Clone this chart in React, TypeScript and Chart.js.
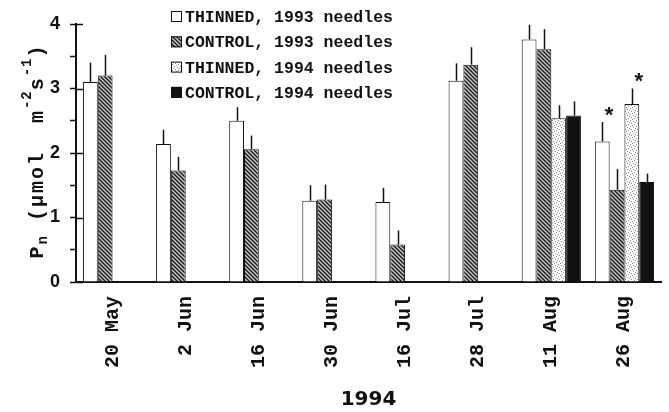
import React, { useEffect, useRef } from 'react';
import { Chart, registerables } from 'chart.js';

Chart.register(...registerables);

// ---- data ----
const categories = ['20 May', '2 Jun', '16 Jun', '30 Jun', '16 Jul', '28 Jul', '11 Aug', '26 Aug'];
const seriesLabels = [
  'THINNED, 1993 needles',
  'CONTROL, 1993 needles',
  'THINNED, 1994 needles',
  'CONTROL, 1994 needles',
];
const thinned1993 = [3.10, 2.14, 2.50, 1.26, 1.24, 3.12, 3.76, 2.18];
const thinned1993Err = [0.30, 0.22, 0.21, 0.24, 0.22, 0.27, 0.23, 0.30];
const control1993 = [3.20, 1.73, 2.06, 1.28, 0.58, 3.37, 3.61, 1.43];
const control1993Err = [0.32, 0.21, 0.21, 0.23, 0.22, 0.27, 0.31, 0.32];
const thinned1994 = [null, null, null, null, null, null, 2.54, 2.76];
const thinned1994Err = [null, null, null, null, null, null, 0.20, 0.24];
const control1994 = [null, null, null, null, null, null, 2.58, 1.55];
const control1994Err = [null, null, null, null, null, null, 0.22, 0.13];
const yMin = 0;
const yMax = 4;
const xTitle = '1994';
// [datasetIndex, categoryIndex] of bars flagged with an asterisk
const significant: [number, number][] = [[0, 7], [2, 7]];
const yTitleParts: { text: string; shift?: 'sub' | 'sup' }[] = [
  { text: 'P' },
  { text: 'n', shift: 'sub' },
  { text: ' (\u00B5mol  m' },
  { text: '-2', shift: 'sup' },
  { text: 's' },
  { text: '-1', shift: 'sup' },
  { text: ')' },
];

const MONO = "'Liberation Mono', 'Courier New', monospace";
const INK = '#111';

function makeHatch(): CanvasPattern | string {
  const c = document.createElement('canvas');
  c.width = 4;
  c.height = 4;
  const g = c.getContext('2d');
  if (!g) return '#777';
  g.fillStyle = '#c8c8c8';
  g.fillRect(0, 0, 4, 4);
  g.strokeStyle = '#1a1a1a';
  g.lineWidth = 1.4;
  g.beginPath();
  g.moveTo(-1, -1); g.lineTo(5, 5);
  g.moveTo(-1, 3); g.lineTo(1, 5);
  g.moveTo(3, -1); g.lineTo(5, 1);
  g.stroke();
  return g.createPattern(c, 'repeat') || '#777';
}

function makeStipple(): CanvasPattern | string {
  const c = document.createElement('canvas');
  c.width = 6;
  c.height = 6;
  const g = c.getContext('2d');
  if (!g) return '#eee';
  g.fillStyle = '#ffffff';
  g.fillRect(0, 0, 6, 6);
  g.fillStyle = '#8a8a8a';
  [[0, 0], [3, 1], [1, 3], [4, 4], [5, 2], [2, 5]].forEach(([x, y]) => g.fillRect(x, y, 1, 1));
  return g.createPattern(c, 'repeat') || '#eee';
}

export default function App() {
  const ref = useRef<HTMLCanvasElement | null>(null);

  useEffect(() => {
    const canvas = ref.current;
    if (!canvas) return;
    const hatch = makeHatch();
    const stipple = makeStipple();
    const errors = [thinned1993Err, control1993Err, thinned1994Err, control1994Err];

    const decor = {
      id: 'decor',
      afterDatasetsDraw(chart: any) {
        const { ctx } = chart;
        const ys = chart.scales.y;
        ctx.save();
        ctx.strokeStyle = INK;
        ctx.lineWidth = 1.5;
        chart.data.datasets.forEach((ds: any, di: number) => {
          const meta = chart.getDatasetMeta(di);
          meta.data.forEach((el: any, i: number) => {
            const v = ds.data[i];
            const e = errors[di][i];
            if (v == null || e == null) return;
            const yTop = ys.getPixelForValue(v + e);
            ctx.beginPath();
            ctx.moveTo(Math.round(el.x) + 0.5, el.y);
            ctx.lineTo(Math.round(el.x) + 0.5, yTop);
            ctx.stroke();
          });
        });
        // asterisks
        ctx.fillStyle = INK;
        ctx.font = `bold 22px ${MONO}`;
        ctx.textAlign = 'center';
        ctx.textBaseline = 'middle';
        significant.forEach(([di, i]) => {
          const el = chart.getDatasetMeta(di).data[i];
          const v = chart.data.datasets[di].data[i];
          const e = errors[di][i] || 0;
          const yTop = ys.getPixelForValue(v + e);
          ctx.fillText('*', el.x + 7, yTop - 5);
        });
        ctx.restore();
      },
      afterDraw(chart: any) {
        const { ctx, chartArea } = chart;
        const ys = chart.scales.y;
        ctx.save();
        // inner part of major y ticks
        ctx.strokeStyle = INK;
        ctx.lineWidth = 1.5;
        for (let v = yMin; v <= yMax; v += 1) {
          const y = Math.round(ys.getPixelForValue(v)) + 0.5;
          ctx.beginPath();
          ctx.moveTo(chartArea.left, y);
          ctx.lineTo(chartArea.left + 7, y);
          ctx.stroke();
        }
        // legend
        const lx = 171;
        const tx = 185;
        const y0 = 17;
        const dy = 25.3;
        ctx.font = `bold 16.5px ${MONO}`;
        ctx.textAlign = 'left';
        ctx.textBaseline = 'middle';
        chart.data.datasets.forEach((ds: any, i: number) => {
          const cy = y0 + i * dy;
          ctx.fillStyle = ds.backgroundColor;
          ctx.fillRect(lx, cy - 6, 11, 11);
          ctx.strokeStyle = INK;
          ctx.lineWidth = 1;
          ctx.strokeRect(lx + 0.5, cy - 5.5, 10, 10);
          ctx.fillStyle = INK;
          ctx.fillText(ds.label, tx, cy + 1);
        });
        // y axis title with sub/superscripts, drawn character by character
        const mainFont = `bold 20px ${MONO}`;
        const smallFont = `bold 14px ${MONO}`;
        const extraMain = 2;
        const extraSmall = 1;
        const glyphs: { ch: string; font: string; off: number; adv: number }[] = [];
        yTitleParts.forEach((p) => {
          const font = p.shift ? smallFont : mainFont;
          const off = p.shift === 'sub' ? 4 : p.shift === 'sup' ? -12 : 0;
          ctx.font = font;
          for (const ch of p.text) {
            const adv = ctx.measureText(ch).width + (p.shift ? extraSmall : extraMain);
            glyphs.push({ ch, font, off, adv });
          }
        });
        const total = glyphs.reduce((a, g) => a + g.adv, 0);
        const cx = 43;
        const cyc = (chartArea.top + chartArea.bottom) / 2 - 2;
        ctx.translate(cx, cyc);
        ctx.rotate(-Math.PI / 2);
        ctx.textAlign = 'left';
        ctx.textBaseline = 'alphabetic';
        ctx.fillStyle = INK;
        let u = -total / 2;
        glyphs.forEach((g) => {
          ctx.font = g.font;
          ctx.fillText(g.ch, u, g.off);
          u += g.adv;
        });
        ctx.restore();
      },
    };

    const chart = new Chart(canvas, {
      type: 'bar',
      data: {
        labels: categories,
        datasets: [
          { label: seriesLabels[0], data: thinned1993, backgroundColor: '#ffffff' },
          { label: seriesLabels[1], data: control1993, backgroundColor: hatch as any },
          { label: seriesLabels[2], data: thinned1994 as any, backgroundColor: stipple as any },
          { label: seriesLabels[3], data: control1994 as any, backgroundColor: '#111111' },
        ].map((d) => ({
          ...d,
          borderColor: INK,
          borderWidth: 1,
          categoryPercentage: 0.81,
          barPercentage: 1.0,
        })),
      },
      options: {
        responsive: false,
        animation: false,
        devicePixelRatio: 1,
        layout: { padding: { top: 24, right: 8, left: 0, bottom: 0 } },
        plugins: {
          legend: { display: false },
          tooltip: { enabled: false },
        },
        scales: {
          x: {
            grid: { display: false, drawTicks: false },
            border: { display: true, width: 2, color: INK },
            ticks: {
              autoSkip: false,
              maxRotation: 90,
              minRotation: 90,
              padding: 14,
              color: INK,
              font: { family: MONO, size: 20, weight: 'bold' },
            },
            title: {
              display: true,
              text: xTitle,
              color: INK,
              font: { family: "'DejaVu Sans', sans-serif", size: 20, weight: 'bold' },
              padding: { top: 0, bottom: 0 },
            },
            afterFit: (s: any) => {
              s.height = 130;
            },
          },
          y: {
            min: yMin,
            max: yMax,
            grid: { drawOnChartArea: false, tickLength: 6, tickWidth: 1.5, tickColor: INK },
            border: { display: true, width: 2, color: INK },
            ticks: {
              stepSize: 0.5,
              padding: 10,
              color: INK,
              font: { family: "'Liberation Sans', Arial, sans-serif", size: 18, weight: 'bold' },
              callback: (v: any) => (Number.isInteger(Number(v)) ? String(v) : ''),
            },
            afterFit: (s: any) => {
              s.width = 76;
            },
          },
        },
      } as any,
      plugins: [decor],
    });
    return () => chart.destroy();
  }, []);

  return (
    <div style={{ position: 'absolute', left: 0, top: 0, width: 669, height: 412, background: '#fff' }}>
      <canvas ref={ref} width={669} height={412} />
    </div>
  );
}
